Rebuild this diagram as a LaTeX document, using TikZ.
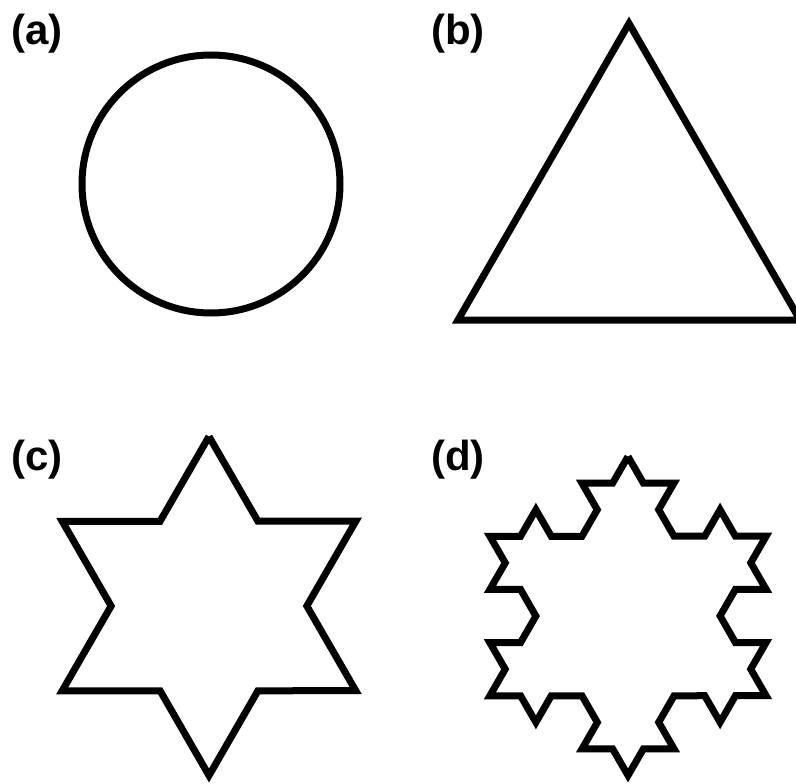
\documentclass[tikz,border=0pt]{standalone}
\usepackage{fontspec}
\setmainfont{Liberation Sans}
\usetikzlibrary{decorations.fractals}
\tikzset{
  shapeline/.style={line width=7pt,line join=miter},
  panellabel/.style={anchor=base west,inner sep=0pt,font=\fontsize{42}{50}\selectfont\bfseries},
}
\newcommand{\seedtri}[1]{(90:#1) -- (-30:#1) -- (210:#1) -- cycle}

\begin{document}
\begin{tikzpicture}[x=1pt,y=1pt]
  \useasboundingbox (0,0) rectangle (796,-784);
  % (a) circle
  \node[panellabel] (lbla) at (11,-45) {(a)};
  \draw[shapeline] (211,-184) circle[radius=129];
  % (b) triangle
  \node[panellabel] (lblb) at (431,-45) {(b)};
  \draw[shapeline] (629,-23.5) -- (800,-320) -- (458,-320) -- cycle;
  % (c) one Koch step
  \node[panellabel] (lblc) at (11,-470) {(c)};
  \begin{scope}[shift={(209,-606)}]
    \draw[shapeline,decoration=Koch snowflake] decorate{\seedtri{169.5}};
  \end{scope}
  % (d) two Koch steps
  \node[panellabel] (lbld) at (431,-470) {(d)};
  \begin{scope}[shift={(628,-616)}]
    \draw[shapeline,decoration=Koch snowflake] decorate{decorate{\seedtri{159.5}}};
  \end{scope}
\end{tikzpicture}
\end{document}
